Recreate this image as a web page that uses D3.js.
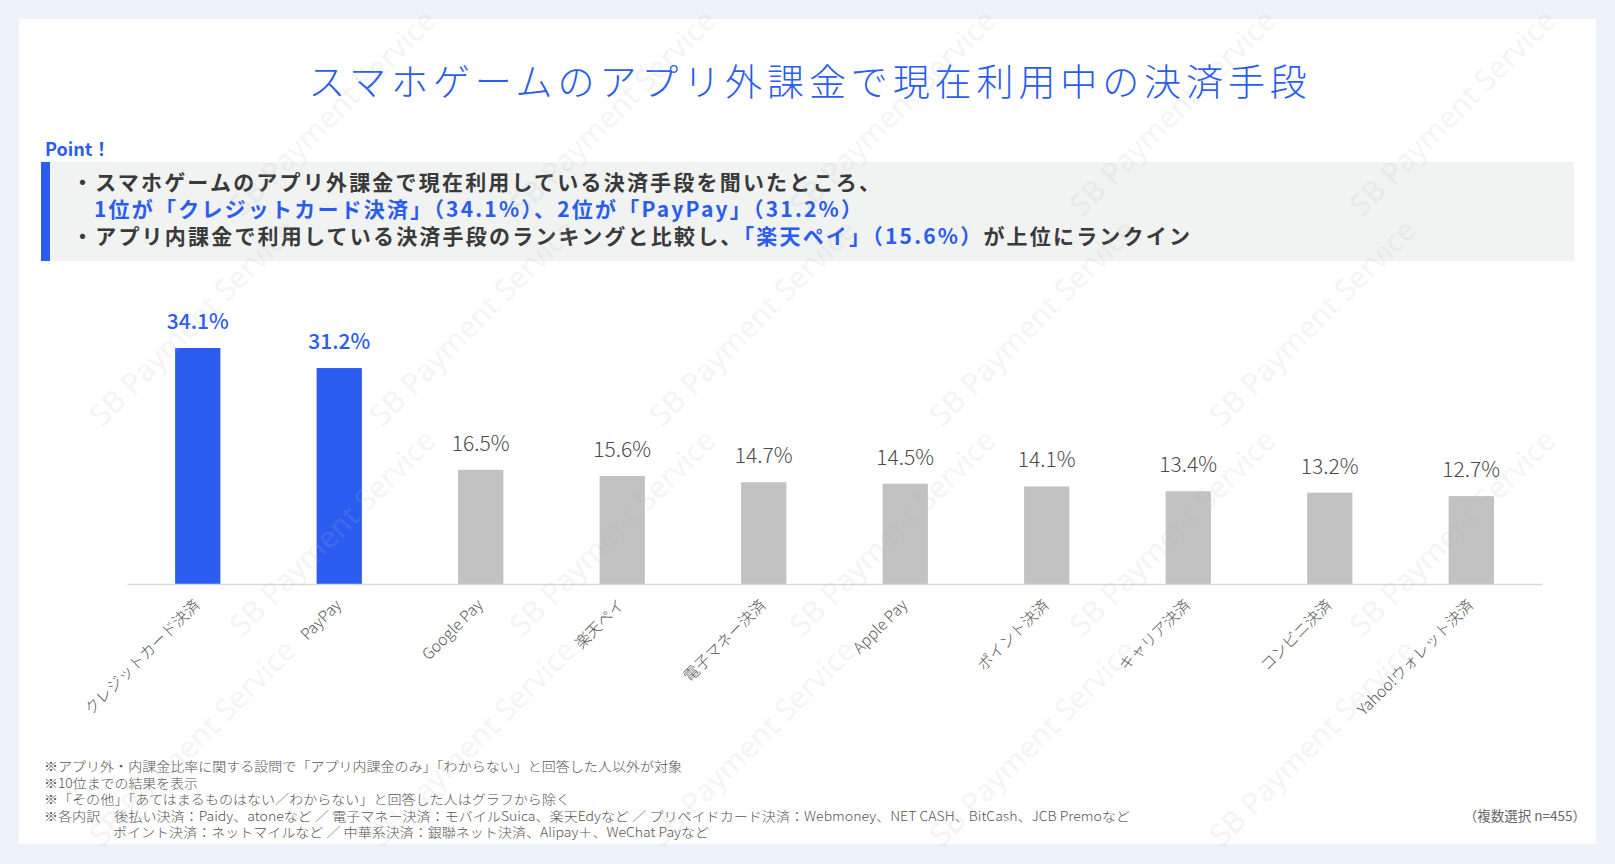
<!DOCTYPE html>
<html>
<head>
<meta charset="utf-8">
<script src="https://cdn.jsdelivr.net/npm/d3@7"></script>
<style>
  html, body { margin: 0; padding: 0; background: #eef2f9; }
  svg { display: block; font-family: "Noto Sans CJK JP", "Noto Sans", sans-serif; }
</style>
</head>
<body>
<div id="chart"></div>
<script>
// chart data
const categories = ["クレジットカード決済", "PayPay", "Google Pay", "楽天ペイ", "電子マネー決済",
                    "Apple Pay", "ポイント決済", "キャリア決済", "コンビニ決済", "Yahoo!ウォレット決済"];
const values = [34.1, 31.2, 16.5, 15.6, 14.7, 14.5, 14.1, 13.4, 13.2, 12.7];
const highlighted = ["クレジットカード決済", "PayPay"];

const title = "スマホゲームのアプリ外課金で現在利用中の決済手段";
// point box lines: [text, highlight?]
const pointLines = [
  [["・スマホゲームのアプリ外課金で現在利用している決済手段を聞いたところ、", false]],
  [["1位が「クレジットカード決済」（34.1%）、2位が「PayPay」（31.2%）", true]],
  [["・アプリ内課金で利用している決済手段のランキングと比較し、", false],
   ["「楽天ペイ」（15.6%）", true], ["が上位にランクイン", false]]
];
const notes = [
  "※アプリ外・内課金比率に関する設問で「アプリ内課金のみ」「わからない」と回答した人以外が対象",
  "※10位までの結果を表示",
  "※「その他」「あてはまるものはない／わからない」と回答した人はグラフから除く",
  "※各内訳　後払い決済：Paidy、atoneなど ／ 電子マネー決済：モバイルSuica、楽天Edyなど ／ プリペイドカード決済：Webmoney、NET CASH、BitCash、JCB Premoなど",
  "ポイント決済：ネットマイルなど ／ 中華系決済：銀聯ネット決済、Alipay＋、WeChat Payなど"
];
const sampleNote = "（複数選択 n=455）";

const W = 1615, H = 864;
const blue = "#2b5cf0", gray = "#c2c2c2", textDark = "#3a3a3a";

const svg = d3.select("#chart").append("svg")
  .attr("width", W)
  .attr("height", H);

// hatter + feher kartya
svg.append("rect").attr("width", W).attr("height", H).attr("fill", "#eef2f9");
svg.append("rect")
  .attr("x", 19).attr("y", 19)
  .attr("width", 1577).attr("height", 825)
  .attr("fill", "#ffffff");

// cim
svg.append("text")
  .attr("x", 810).attr("y", 96)
  .attr("text-anchor", "middle")
  .attr("fill", blue)
  .attr("font-size", 37)
  .attr("font-weight", 300)
  .attr("letter-spacing", 4.9)
  .text(title);

// Point box
svg.append("text")
  .attr("x", 45).attr("y", 156)
  .attr("fill", blue)
  .attr("font-size", 18)
  .attr("font-weight", 700)
  .text("Point！");
svg.append("rect")
  .attr("x", 41).attr("y", 162)
  .attr("width", 1533).attr("height", 99)
  .attr("fill", "#f1f3f3");
svg.append("rect")
  .attr("x", 41).attr("y", 162)
  .attr("width", 9).attr("height", 99)
  .attr("fill", blue);

const lineX = [72, 94, 72];
pointLines.forEach(function(parts, i) {
  const t = svg.append("text")
    .attr("x", lineX[i])
    .attr("y", 190 + i * 27)
    .attr("font-size", 21)
    .attr("font-weight", 700)
    .attr("letter-spacing", 2.2);
  parts.forEach(function(p) {
    t.append("tspan")
      .attr("fill", p[1] ? blue : textDark)
      .text(p[0]);
  });
});

// bar chart
const x = d3.scaleBand()
  .domain(categories)
  .range([127, 1542])
  .paddingInner(0.68)
  .paddingOuter(0.34);
const y = d3.scaleLinear()
  .domain([0, 34.1])
  .range([584, 348]);

const bars = svg.append("g");
bars.selectAll("rect")
  .data(values)
  .enter()
  .append("rect")
  .attr("x", (d, i) => x(categories[i]))
  .attr("y", d => y(d))
  .attr("width", x.bandwidth())
  .attr("height", d => y(0) - y(d))
  .attr("fill", (d, i) => highlighted.includes(categories[i]) ? blue : gray);

bars.selectAll("text.val")
  .data(values)
  .enter()
  .append("text")
  .attr("class", "val")
  .attr("x", (d, i) => x(categories[i]) + x.bandwidth() / 2)
  .attr("y", d => y(d) - 19)
  .attr("text-anchor", "middle")
  .attr("font-size", 21)
  .attr("font-weight", (d, i) => highlighted.includes(categories[i]) ? 500 : 300)
  .attr("fill", (d, i) => highlighted.includes(categories[i]) ? blue : "#4a4a4a")
  .text(d => d.toFixed(1) + "%");

// x tengely
const xAxis = svg.append("g")
  .attr("transform", "translate(0," + y(0) + ")")
  .call(d3.axisBottom(x).tickSize(0).tickPadding(0));
xAxis.select(".domain").attr("stroke", "#d9d9d9").attr("stroke-width", 1.5);
xAxis.selectAll(".tick text")
  .attr("font-family", "\"Noto Sans CJK JP\", sans-serif")
  .attr("font-size", 15.5)
  .attr("font-weight", 300)
  .attr("fill", "#555")
  .attr("text-anchor", "end")
  .attr("dy", 0)
  .attr("transform", "translate(3,22) rotate(-45)");

// labjegyzetek
const noteLen = [638, 154, 526, 1086, 596];
notes.forEach(function(n, i) {
  svg.append("text")
    .attr("x", i === 4 ? 113 : 44)
    .attr("y", 771 + i * 16.5)
    .attr("font-size", 13)
    .attr("font-weight", 300)
    .attr("fill", "#555")
    .attr("textLength", noteLen[i])
    .attr("lengthAdjust", "spacingAndGlyphs")
    .text(n);
});
svg.append("text")
  .attr("x", 1586).attr("y", 821)
  .attr("text-anchor", "end")
  .attr("font-size", 13.5)
  .attr("fill", "#666")
  .text(sampleNote);

// vizjel (csak a teljesen lathatoak)
const wm = svg.append("g").attr("pointer-events", "none");
for (let j = -1; j < 6; j++) {
  for (let i = -1; i < 9; i++) {
    const cx = i * 280 + (j % 2 === 0 ? 0 : 140) + 60;
    const cy = j * 210 + 120;
    if (cx < 115 || cx > W - 115 || cy < 112 || cy > H - 112) continue;
    wm.append("text")
      .attr("transform", "translate(" + cx + "," + cy + ") rotate(-45)")
      .attr("text-anchor", "middle")
      .attr("font-family", "\"Noto Sans\", sans-serif")
      .attr("font-size", 30)
      .attr("fill", "#b8b8b8")
      .attr("opacity", 0.14)
      .text("SB Payment Service");
  }
}
</script>
</body>
</html>
